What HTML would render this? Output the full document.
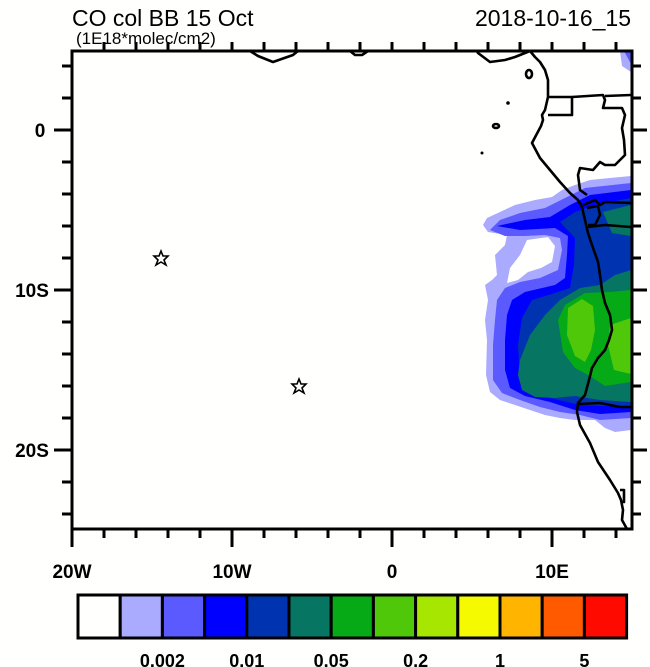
<!DOCTYPE html>
<html><head><meta charset="utf-8"><style>
body{margin:0;background:#fff;}
svg{display:block;font-family:"Liberation Sans",Arial,sans-serif;}
</style></head><body>
<svg width="650" height="667" viewBox="0 0 650 667" xmlns="http://www.w3.org/2000/svg">
<rect width="650" height="667" fill="#fffffe"/>
<defs><clipPath id="c"><rect x="72" y="51" width="560" height="478"/></clipPath></defs>
<g clip-path="url(#c)" stroke="none">
<polygon fill="#aaaaff" points="483,225 487,218 500,212 515,205 535,200 552,197 562,190 575,185 590,180 610,178 631,176 631,430 615,432 605,428 595,420 575,420 560,418 545,415 530,410 515,405 500,400 490,392 486,375 487,340 485,320 488,300 485,285 492,280 497,275 495,255 505,245 507,235 488,232"/>
<polygon fill="#5a5aff" points="490,230 500,220 520,213 545,208 565,198 585,188 631,183 631,418 600,420 580,415 560,412 540,407 520,400 502,393 493,380 493,345 495,320 497,300 505,288 520,282 540,278 558,270 562,250 560,238 545,235 525,236 505,236"/>
<polygon fill="#0000ff" points="497,226 525,220 550,217 570,205 590,195 631,190 631,412 600,414 575,410 550,402 525,396 510,388 505,370 505,340 507,315 512,300 525,292 555,285 565,278 567,255 568,236 555,228 520,230"/>
<polygon fill="#0033b0" points="560,222 575,212 595,205 631,198 631,407 580,405 550,398 530,392 520,378 518,345 522,318 532,300 555,293 570,288 574,265 575,238"/>
<polygon fill="#fffffe" points="527,240 548,237 555,246 552,262 541,268 528,272 518,280 507,283 510,268 520,255"/>
<polygon fill="#067562" points="520,360 530,335 545,315 560,300 580,288 600,285 615,275 631,270 631,402 600,400 575,396 555,398 535,397 522,390 518,375"/>
<polygon fill="#067562" points="603,212 631,205 631,236 612,233"/>
<polygon fill="#05aa16" points="558,320 565,305 585,293 610,292 631,290 631,382 605,386 590,376 575,368 563,352"/>
<polygon fill="#50c80a" points="568,308 582,299 593,306 595,330 591,350 585,362 575,356 567,335"/>
<polygon fill="#50c80a" points="610,325 631,318 631,374 614,370 608,345"/>
<polygon fill="#aaaaff" points="620,51 631,51 631,72 622,66"/>
<polygon fill="#5a5aff" points="624,51 631,51 631,64"/>
</g>
<g fill="none" stroke="#000" stroke-width="2.6" stroke-linejoin="round" clip-path="url(#c)">
<polyline points="250,51 258,56 273,62 293,55 298,51"/>
<polyline points="350,51 355,55 362,55 368,51"/>
<polyline points="477,51 478,53 490,62 505,60 515,57 525,53 530,51 535,57 540,62 545,70 548,80 548,97 545,110 542,115 543,120 541,126 532,143 540,158 550,170 560,182 570,193 578,200 582,207 585,220 588,233 592,245 598,262 600,275 602,290 605,303 610,315 612,330 609,340 605,350 598,358 592,368 589,380 585,395 578,403 577,412 580,425 590,443 598,462 610,480 618,493 621,500 623,510 622,520 627,529"/>
<polyline points="548,97 572,97 572,115 548,115"/>
<polyline points="572,97 603,95 605,100 603,108 622,108 625,115 622,128 624,140 625,155 615,165 605,165 600,162 593,170 580,168 578,175 580,190 587,195"/>
<polyline points="605,96 631,95"/>
<polyline points="583,205 595,200 600,205 605,202 631,203"/>
<polyline points="587,208 598,206 600,215 595,225 588,225"/>
<polyline points="588,227 605,225 631,227"/>
<polyline points="578,404 600,403 620,407 631,407"/>
<polyline points="620,490 624,490 624,502 621,502"/>
<ellipse cx="529" cy="74" rx="3" ry="4"/>
<ellipse cx="496" cy="126" rx="3" ry="2"/>
</g>
<circle cx="508" cy="103" r="1.8" fill="#000"/>
<circle cx="482" cy="153" r="1.5" fill="#000"/>
<g fill="none" stroke="#000" stroke-width="1.6">
<polygon points="161,251 163,256 168,256 164,260 166,265 161,262 156,265 158,260 154,256 159,256"/>
<polygon points="299,379 301,384 306,384 302,388 304,393 299,390 294,393 296,388 292,384 297,384"/>
</g>
<rect x="72" y="51" width="560" height="478" fill="none" stroke="#000" stroke-width="3"/>
<g stroke="#000" stroke-width="3">
<line x1="72" y1="529" x2="72" y2="547"/><line x1="232" y1="529" x2="232" y2="547"/><line x1="392" y1="529" x2="392" y2="547"/><line x1="552" y1="529" x2="552" y2="547"/>
<line x1="104" y1="529" x2="104" y2="538"/><line x1="136" y1="529" x2="136" y2="538"/><line x1="168" y1="529" x2="168" y2="538"/><line x1="200" y1="529" x2="200" y2="538"/>
<line x1="264" y1="529" x2="264" y2="538"/><line x1="296" y1="529" x2="296" y2="538"/><line x1="328" y1="529" x2="328" y2="538"/><line x1="360" y1="529" x2="360" y2="538"/>
<line x1="424" y1="529" x2="424" y2="538"/><line x1="456" y1="529" x2="456" y2="538"/><line x1="488" y1="529" x2="488" y2="538"/><line x1="520" y1="529" x2="520" y2="538"/>
<line x1="584" y1="529" x2="584" y2="538"/><line x1="616" y1="529" x2="616" y2="538"/>
<line x1="104" y1="51" x2="104" y2="42"/><line x1="136" y1="51" x2="136" y2="42"/><line x1="168" y1="51" x2="168" y2="42"/><line x1="200" y1="51" x2="200" y2="42"/><line x1="232" y1="51" x2="232" y2="42"/>
<line x1="264" y1="51" x2="264" y2="42"/><line x1="296" y1="51" x2="296" y2="42"/><line x1="328" y1="51" x2="328" y2="42"/><line x1="360" y1="51" x2="360" y2="42"/><line x1="392" y1="51" x2="392" y2="42"/>
<line x1="424" y1="51" x2="424" y2="42"/><line x1="456" y1="51" x2="456" y2="42"/><line x1="488" y1="51" x2="488" y2="42"/><line x1="520" y1="51" x2="520" y2="42"/><line x1="552" y1="51" x2="552" y2="42"/>
<line x1="584" y1="51" x2="584" y2="42"/><line x1="616" y1="51" x2="616" y2="42"/>
<line x1="72" y1="130" x2="54" y2="130"/><line x1="72" y1="290" x2="54" y2="290"/><line x1="72" y1="450" x2="54" y2="450"/>
<line x1="72" y1="66" x2="62" y2="66"/><line x1="72" y1="98" x2="62" y2="98"/><line x1="72" y1="162" x2="62" y2="162"/><line x1="72" y1="194" x2="62" y2="194"/><line x1="72" y1="226" x2="62" y2="226"/><line x1="72" y1="258" x2="62" y2="258"/>
<line x1="72" y1="322" x2="62" y2="322"/><line x1="72" y1="354" x2="62" y2="354"/><line x1="72" y1="386" x2="62" y2="386"/><line x1="72" y1="418" x2="62" y2="418"/><line x1="72" y1="482" x2="62" y2="482"/><line x1="72" y1="514" x2="62" y2="514"/>
<line x1="632" y1="130" x2="647" y2="130"/><line x1="632" y1="290" x2="647" y2="290"/><line x1="632" y1="450" x2="647" y2="450"/>
<line x1="632" y1="66" x2="641" y2="66"/><line x1="632" y1="98" x2="641" y2="98"/><line x1="632" y1="162" x2="641" y2="162"/><line x1="632" y1="194" x2="641" y2="194"/><line x1="632" y1="226" x2="641" y2="226"/><line x1="632" y1="258" x2="641" y2="258"/>
<line x1="632" y1="322" x2="641" y2="322"/><line x1="632" y1="354" x2="641" y2="354"/><line x1="632" y1="386" x2="641" y2="386"/><line x1="632" y1="418" x2="641" y2="418"/><line x1="632" y1="482" x2="641" y2="482"/><line x1="632" y1="514" x2="641" y2="514"/>
</g>
<g font-size="19" font-weight="bold" fill="#000">
<text x="72" y="578" text-anchor="middle">20W</text>
<text x="232" y="578" text-anchor="middle">10W</text>
<text x="392" y="578" text-anchor="middle">0</text>
<text x="552" y="578" text-anchor="middle">10E</text>
<text x="40" y="137" text-anchor="middle">0</text>
<text x="32" y="297" text-anchor="middle">10S</text>
<text x="32" y="457" text-anchor="middle">20S</text>
</g>
<text x="72" y="26" font-size="23" fill="#000">CO col BB 15 Oct</text>
<text x="76" y="44" font-size="17" fill="#000">(1E18*molec/cm2)</text>
<text x="631" y="26" font-size="23" fill="#000" text-anchor="end">2018-10-16_15</text>
<g stroke="#000" stroke-width="3">
<rect x="78" y="595" width="42.2" height="43" fill="#fffffe"/>
<rect x="120.2" y="595" width="42.2" height="43" fill="#aaaaff"/>
<rect x="162.4" y="595" width="42.2" height="43" fill="#5a5aff"/>
<rect x="204.6" y="595" width="42.2" height="43" fill="#0000ff"/>
<rect x="246.8" y="595" width="42.2" height="43" fill="#0033b0"/>
<rect x="289" y="595" width="42.2" height="43" fill="#067562"/>
<rect x="331.2" y="595" width="42.2" height="43" fill="#05aa16"/>
<rect x="373.4" y="595" width="42.2" height="43" fill="#50c80a"/>
<rect x="415.6" y="595" width="42.2" height="43" fill="#a6e600"/>
<rect x="457.8" y="595" width="42.2" height="43" fill="#f5fa00"/>
<rect x="500" y="595" width="42.2" height="43" fill="#ffb400"/>
<rect x="542.2" y="595" width="42.2" height="43" fill="#ff5a00"/>
<rect x="584.4" y="595" width="42.2" height="43" fill="#ff0a00"/>
</g>
<g font-size="18" font-weight="bold" fill="#000" text-anchor="middle">
<text x="162.4" y="667">0.002</text>
<text x="246.8" y="667">0.01</text>
<text x="331.2" y="667">0.05</text>
<text x="415.6" y="667">0.2</text>
<text x="500" y="667">1</text>
<text x="584.4" y="667">5</text>
</g>
</svg>
</body></html>
